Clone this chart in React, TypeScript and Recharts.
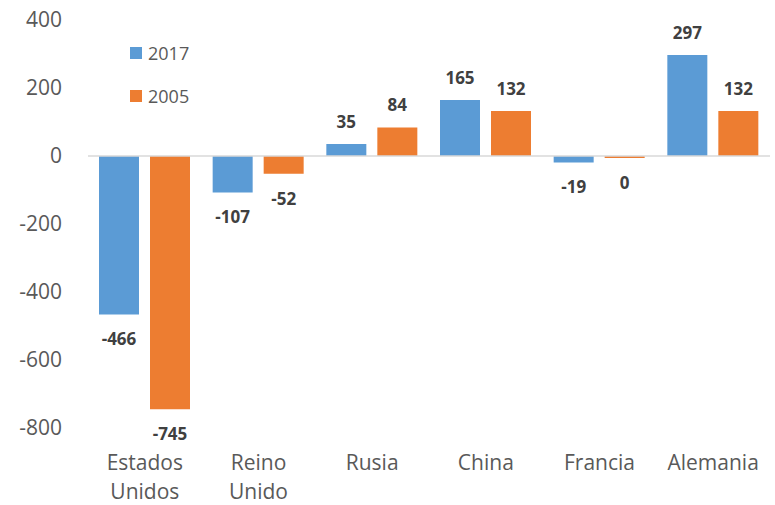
import React from "react";
import { BarChart, Bar, XAxis, YAxis, ReferenceLine, LabelList } from "recharts";

const categories = ["Estados Unidos", "Reino Unido", "Rusia", "China", "Francia", "Alemania"];
const values2017 = [-466, -107, 35, 165, -19, 297];
const values2005 = [-745, -52, 84, 132, -0.4, 132];
const yTicks = [-800, -600, -400, -200, 0, 200, 400];
const seriesNames = ["2017", "2005"];

const data = categories.map((c, i) => ({ name: c, y2017: values2017[i], y2005: values2005[i] }));

const FONT = "'Open Sans', 'Noto Sans', sans-serif";
const BLUE = "#5B9BD5";
const ORANGE = "#ED7D31";

const CatTick = (props: any) => {
  const { x, y, payload } = props;
  const words = String(payload.value).split(" ");
  return (
    <g>
      {words.map((w: string, i: number) => (
        <text key={i} x={x} y={y + 34 + i * 29} textAnchor="middle" fill="#595959" fontSize={21} fontFamily={FONT}>
          {w}
        </text>
      ))}
    </g>
  );
};

const ValueLabel = (props: any) => {
  const { x, y, width, height, value } = props;
  const v = Number(value);
  const cx = x + width / 2;
  let ty: number;
  if (v >= 0) {
    const top = Math.min(y, y + height);
    ty = top - 16;
  } else {
    const bottom = Math.max(y, y + height);
    ty = bottom + 31;
  }
  let txt = String(Math.round(v));
  if (txt === "-0") txt = "0";
  return (
    <text x={cx} y={ty} textAnchor="middle" fill="#404040" fontSize={17} fontWeight="bold" fontFamily={FONT}>
      {txt}
    </text>
  );
};

export default function App() {
  const colors = [BLUE, ORANGE];
  return (
    <div style={{ position: "absolute", left: 0, top: 0, width: 775, height: 505, background: "#fff" }}>
      <BarChart
        width={775}
        height={505}
        data={data}
        margin={{ top: 20, right: 5, bottom: 0, left: 0 }}
        barSize={40}
        barGap={11}
      >
        <XAxis
          dataKey="name"
          axisLine={false}
          tickLine={false}
          height={77}
          tick={<CatTick />}
          interval={0}
        />
        <YAxis
          domain={[-800, 400]}
          ticks={yTicks}
          axisLine={false}
          tickLine={false}
          width={88}
          tickSize={0}
          tickMargin={26}
          tick={{ fill: "#595959", fontSize: 21, fontFamily: FONT }}
        />
        <ReferenceLine y={0} stroke="#d9d9d9" strokeWidth={1.5} />
        <Bar dataKey="y2017" name={seriesNames[0]} fill={BLUE} isAnimationActive={false} minPointSize={2}>
          <LabelList dataKey="y2017" content={<ValueLabel />} />
        </Bar>
        <Bar dataKey="y2005" name={seriesNames[1]} fill={ORANGE} isAnimationActive={false} minPointSize={2}>
          <LabelList dataKey="y2005" content={<ValueLabel />} />
        </Bar>
      </BarChart>
      <div style={{ position: "absolute", left: 130, top: 42, fontFamily: FONT, fontSize: 18, color: "#595959" }}>
        {seriesNames.map((n, i) => (
          <div key={n} style={{ display: "flex", alignItems: "center", height: 22, marginTop: i === 0 ? 0 : 21 }}>
            <span style={{ display: "inline-block", width: 12, height: 12, background: colors[i], marginRight: 6 }} />
            {n}
          </div>
        ))}
      </div>
    </div>
  );
}
